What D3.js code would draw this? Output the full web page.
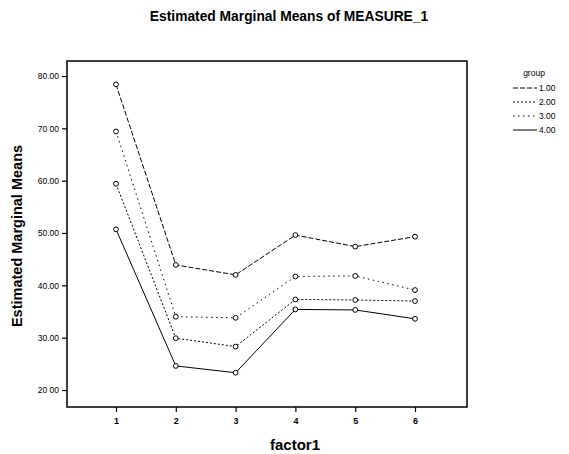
<!DOCTYPE html>
<html>
<head>
<meta charset="utf-8">
<script src="https://cdn.jsdelivr.net/npm/d3@7"></script>
<style>
  body { margin: 0; background: #fff; }
  svg { font-family: Arial, "Liberation Sans", sans-serif; }
</style>
</head>
<body>
<svg id="chart" width="569" height="454"></svg>
<script>
// Estimated marginal means
var factorLevels = [1, 2, 3, 4, 5, 6];
var groupNames = ["1.00", "2.00", "3.00", "4.00"];
var group1 = [78.4, 43.9, 42.0, 49.6, 47.4, 49.3];
var group2 = [59.4, 29.9, 28.3, 37.3, 37.2, 37.0];
var group3 = [69.4, 34.0, 33.8, 41.7, 41.8, 39.1];
var group4 = [50.7, 24.6, 23.3, 35.4, 35.3, 33.6];
var yTicks = [20, 30, 40, 50, 60, 70, 80];
var yTickLabels = ["20 00", "30.00", "40.00", "50.00", "60.00", "70 00", "80.00"];

var series = [group1, group2, group3, group4];
var dashes = ["5,2", "2,2", "1.5,3.5", null];

var frame = {left: 67, right: 467, top: 61, bottom: 407};

var svg = d3.select("#chart");

var x = d3.scaleLinear().domain([1, 6]).range([116, 415]);
var y = d3.scaleLinear().domain([20, 80]).range([390, 76]);

// Title
svg.append("text")
    .attr("x", 289).attr("y", 21)
    .attr("text-anchor", "middle")
    .style("font-size", "13.8px").style("font-weight", "bold")
    .text("Estimated Marginal Means of MEASURE_1");

// Plot frame
svg.append("rect")
    .attr("x", frame.left).attr("y", frame.top)
    .attr("width", frame.right - frame.left)
    .attr("height", frame.bottom - frame.top)
    .attr("fill", "none").attr("stroke", "#000").attr("stroke-width", 1.5);

// Axes
var yAxis = d3.axisLeft(y).tickValues(yTicks).tickSize(5).tickPadding(3)
    .tickFormat(function(d, i) { return yTickLabels[i]; });
var gy = svg.append("g")
    .attr("transform", "translate(" + frame.left + ",0)")
    .call(yAxis);
gy.select(".domain").remove();
gy.selectAll("text").style("font-size", "8.5px");

var xAxis = d3.axisBottom(x).tickValues(factorLevels).tickSize(5).tickPadding(6)
    .tickFormat(d3.format("d"));
var gx = svg.append("g")
    .attr("transform", "translate(0," + frame.bottom + ")")
    .call(xAxis);
gx.select(".domain").remove();
gx.selectAll("text").style("font-size", "9px").style("font-weight", "bold");

svg.selectAll(".tick line").attr("stroke-width", 1.2);

// Axis titles
svg.append("text")
    .attr("transform", "translate(22,236) rotate(-90)")
    .attr("text-anchor", "middle")
    .style("font-size", "14.5px").style("font-weight", "bold")
    .text("Estimated Marginal Means");

svg.append("text")
    .attr("x", 295).attr("y", 450)
    .attr("text-anchor", "middle")
    .style("font-size", "15px").style("font-weight", "bold")
    .text("factor1");

// Lines and markers
var line = d3.line()
    .x(function(d, i) { return x(factorLevels[i]); })
    .y(function(d) { return y(d); });

series.forEach(function(vals, k) {
  svg.append("path")
      .datum(vals)
      .attr("d", line)
      .attr("fill", "none")
      .attr("stroke", "#000")
      .attr("stroke-width", 1)
      .attr("stroke-dasharray", dashes[k]);

  svg.selectAll(".pt" + k)
      .data(vals)
      .enter()
    .append("circle")
      .attr("class", "pt" + k)
      .attr("cx", function(d, i) { return x(factorLevels[i]); })
      .attr("cy", function(d) { return y(d); })
      .attr("r", 2.4)
      .attr("fill", "#fff")
      .attr("stroke", "#000")
      .attr("stroke-width", 1);
});

// Legend
var legend = svg.append("g");
legend.append("text")
    .attr("x", 534).attr("y", 76)
    .attr("text-anchor", "middle")
    .style("font-size", "8.5px")
    .text("group");

groupNames.forEach(function(name, k) {
  var ly = 88 + k * 14;
  legend.append("line")
      .attr("x1", 513).attr("x2", 537)
      .attr("y1", ly).attr("y2", ly)
      .attr("stroke", "#000").attr("stroke-width", 1)
      .attr("stroke-dasharray", dashes[k]);
  legend.append("text")
      .attr("x", 539).attr("y", ly + 3)
      .style("font-size", "8.5px")
      .text(name);
});
</script>
</body>
</html>
